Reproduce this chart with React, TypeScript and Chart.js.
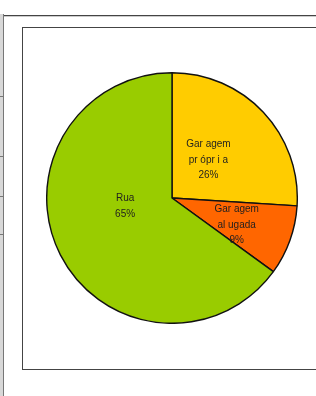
import React, { useEffect, useRef } from "react";
import { Chart, registerables } from "chart.js";

Chart.register(...registerables);

const categories = ["Garagem própria", "Garagem alugada", "Rua"];
const labelLines = [["Gar agem", "pr ópr i a"], ["Gar agem", "al ugada"], ["Rua"]];
const values = [26, 9, 65];
const colors = ["#FFCC00", "#FF6600", "#99CC00"];
const labelRadius = [0.42, 0.56, 0.38];
const labelAngleShift = [-3, 3, 17];

const labelPlugin = {
  id: "sliceLabels",
  afterDatasetsDraw(chart: any) {
    const ctx = chart.ctx;
    const meta = chart.getDatasetMeta(0);
    ctx.save();
    ctx.font = "10px 'Liberation Sans', Arial, sans-serif";
    ctx.fillStyle = "#1f1f1f";
    ctx.textAlign = "center";
    ctx.textBaseline = "middle";
    meta.data.forEach((arc: any, i: number) => {
      const p = arc.getProps(["x", "y", "startAngle", "endAngle", "outerRadius"], true);
      const mid = (p.startAngle + p.endAngle) / 2 + (labelAngleShift[i] * Math.PI) / 180;
      const r = p.outerRadius * labelRadius[i];
      const cx = p.x + Math.cos(mid) * r;
      const cy = p.y + Math.sin(mid) * r;
      const lines = [...labelLines[i], values[i] + "%"];
      const lh = 15.5;
      const y0 = cy - ((lines.length - 1) * lh) / 2;
      lines.forEach((t, k) => ctx.fillText(t, cx, y0 + k * lh));
    });
    ctx.restore();
  },
};

export default function App() {
  const ref = useRef<HTMLCanvasElement>(null);
  useEffect(() => {
    document.body.style.margin = "0";
    const chart = new Chart(ref.current!, {
      type: "pie",
      data: {
        labels: categories,
        datasets: [
          {
            data: values,
            backgroundColor: colors,
            borderColor: "#111",
            borderWidth: 1.4,
          },
        ],
      },
      options: {
        animation: false,
        responsive: false,
        maintainAspectRatio: false,
        layout: { padding: 0 },
        plugins: { legend: { display: false }, tooltip: { enabled: false } },
      },
      plugins: [labelPlugin],
    });
    return () => chart.destroy();
  }, []);

  return (
    <div style={{ position: "relative", width: 316, height: 396, background: "#fff", overflow: "hidden" }}>
      <div style={{ position: "absolute", left: 0, top: 14, width: 3, height: 382, background: "#d8d8d8", borderRight: "1px solid #777" }} />
      {[96, 156, 196, 234].map((y) => (
        <div key={y} style={{ position: "absolute", left: 0, top: y, width: 4, height: 1, background: "#777" }} />
      ))}
      <div style={{ position: "absolute", left: 4, top: 15, width: 312, height: 1, background: "#444" }} />
      <div style={{ position: "absolute", left: 4, top: 16, width: 312, height: 1, background: "#ccc" }} />
      <div style={{ position: "absolute", left: 22, top: 27, width: 300, height: 343, border: "1px solid #444", boxSizing: "border-box" }} />
      <canvas ref={ref} width={252} height={252} style={{ position: "absolute", left: 46, top: 72 }} />
    </div>
  );
}
